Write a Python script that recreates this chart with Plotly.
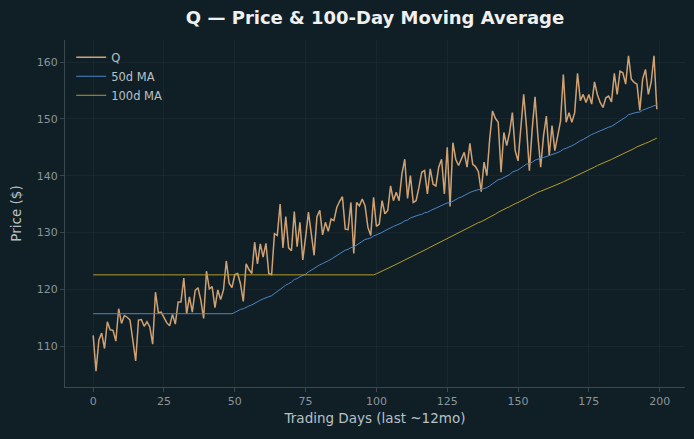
import numpy as np
import pandas as pd
import plotly.graph_objects as go

# ---- data ----
days = list(range(200))
price = [
    111.9, 105.6, 111.05, 112.3, 109.6, 114.3, 112.9, 112.8, 110.9, 116.6,
    114.0, 115.4, 115.1, 114.6, 111.05, 107.4, 114.6, 114.7, 113.5, 114.3,
    113.4, 110.35, 119.5, 115.9, 116.0, 115.1, 114.1, 113.6, 115.6, 113.9,
    117.8, 117.8, 122.0, 115.7, 118.7, 116.0, 119.8, 120.3, 118.1, 114.9,
    123.2, 120.1, 120.5, 116.8, 119.9, 118.2, 119.9, 125.0, 121.1, 120.3,
    122.6, 122.8, 121.0, 117.9, 124.5, 123.5, 122.8, 128.3, 124.5, 128.0,
    125.7, 128.1, 122.8, 122.6, 129.8, 129.5, 135.0, 127.3, 132.8, 127.3,
    126.8, 133.7, 127.5, 131.8, 125.2, 129.2, 133.6, 129.8, 126.0, 132.8,
    133.9, 129.6, 131.8, 130.2, 132.4, 132.1, 134.4, 135.5, 136.3, 130.6,
    130.5, 135.3, 126.3, 135.3, 134.7, 135.9, 134.7, 130.9, 129.5, 136.2,
    131.1, 131.5, 135.6, 133.3, 133.9, 138.2, 135.6, 137.1, 135.6, 140.3,
    142.9, 136.0, 140.0, 135.3, 135.6, 137.9, 140.6, 140.9, 136.8, 141.2,
    138.5, 138.2, 141.5, 142.9, 136.8, 145.0, 134.6, 145.8, 142.9, 141.8,
    143.0, 144.1, 141.5, 145.7, 142.0, 141.6, 140.7, 137.2, 142.4, 140.0,
    146.5, 151.4, 150.1, 149.4, 140.6, 147.6, 145.3, 147.6, 151.1, 144.4,
    142.6, 148.2, 154.3, 148.5, 140.9, 148.2, 153.9, 147.0, 141.5, 147.0,
    150.5, 143.5, 148.8, 144.4, 146.7, 149.6, 157.8, 149.4, 151.1, 149.4,
    151.1, 158.0, 153.2, 154.3, 152.9, 154.3, 152.6, 156.5, 154.3, 152.9,
    152.0, 153.7, 154.0, 153.0, 158.0, 154.3, 158.4, 158.1, 156.1, 161.1,
    157.0, 156.4, 156.1, 151.5, 157.0, 158.7, 154.3, 156.4, 161.1, 151.7,
]
ma_windows = [50, 100]
series_names = ["Q", "50d MA", "100d MA"]
x_ticks = [0, 25, 50, 75, 100, 125, 150, 175, 200]
y_ticks = [110, 120, 130, 140, 150, 160]

s = pd.Series(price)
ma50 = s.rolling(ma_windows[0]).mean().bfill().tolist()
ma100 = s.rolling(ma_windows[1]).mean().bfill().tolist()

BG = "#101f26"
FONT = "DejaVu Sans"
SPINE = "#3a4950"
GRID = "rgba(255,255,255,0.035)"

fig = go.Figure()
fig.add_trace(go.Scatter(x=days, y=price, mode="lines", name=series_names[0],
                         line=dict(color="#d0a273", width=1.5)))
fig.add_trace(go.Scatter(x=days, y=ma50, mode="lines", name=series_names[1],
                         line=dict(color="#4c84c4", width=1)))
fig.add_trace(go.Scatter(x=days, y=ma100, mode="lines", name=series_names[2],
                         line=dict(color="#b39c2c", width=1)))

n = len(days)
xpad = (n - 1) * 0.05
ymin, ymax = min(price), max(price)
ypad = (ymax - ymin) * 0.05

fig.update_layout(
    width=694, height=439,
    paper_bgcolor=BG, plot_bgcolor=BG,
    margin=dict(l=65, r=9, t=40, b=52),
    font=dict(family=FONT, color="#b8c1c6"),
    title=dict(text="<b>Q — Price & 100-Day Moving Average</b>",
               x=0.5, xref="paper", xanchor="center",
               y=1 - 18 / 439, yref="container", yanchor="middle",
               font=dict(family=FONT, size=18, color="#f0f0f0")),
    showlegend=True,
    legend=dict(x=0.01, y=0.992, xanchor="left", yanchor="top",
                bgcolor="rgba(0,0,0,0)", font=dict(size=11.5, color="#b8c1c6"),
                tracegroupgap=0),
)
fig.update_xaxes(
    range=[-xpad, (n - 1) + xpad], tickvals=x_ticks,
    showgrid=True, gridcolor=GRID, gridwidth=1,
    showline=True, linecolor=SPINE, linewidth=1, mirror=False,
    ticks="outside", ticklen=4, tickcolor=SPINE,
    tickfont=dict(size=11, color="#8a959a"), zeroline=False,
    title=dict(text="Trading Days (last ~12mo)", standoff=6,
               font=dict(size=13.5, color="#b8c1c6")),
)
fig.update_yaxes(
    range=[ymin - ypad, ymax + ypad], tickvals=y_ticks,
    showgrid=True, gridcolor=GRID, gridwidth=1,
    showline=True, linecolor=SPINE, linewidth=1, mirror=False,
    ticks="outside", ticklen=4, tickcolor=SPINE,
    tickfont=dict(size=11, color="#8a959a"), zeroline=False,
    title=dict(text="Price ($)", standoff=12,
               font=dict(size=13.5, color="#b8c1c6")),
)

fig.write_html("out.html")
